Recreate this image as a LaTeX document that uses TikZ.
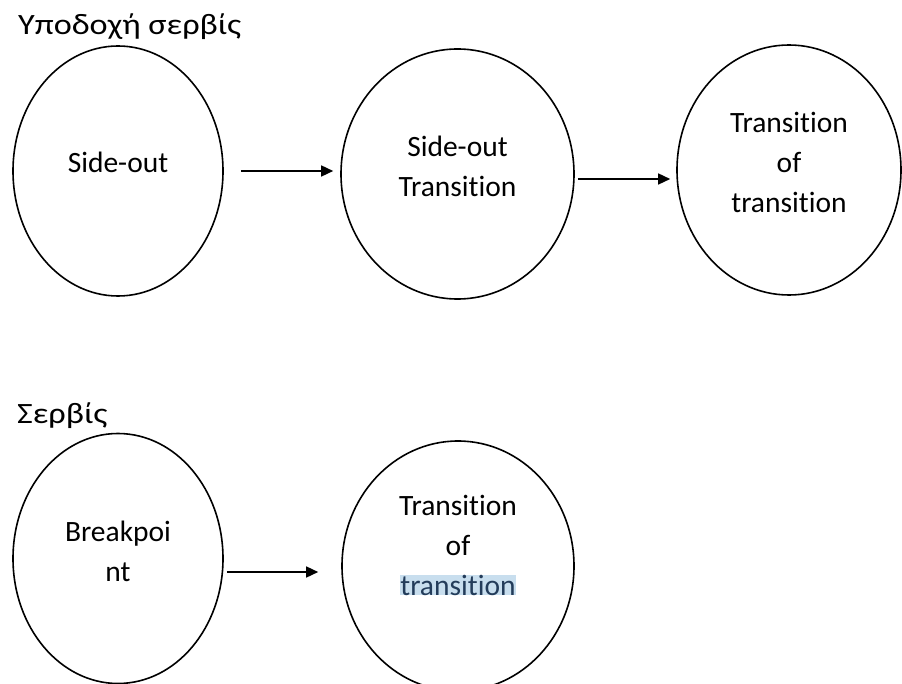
\documentclass[tikz,border=0pt]{standalone}
\usepackage{fontspec}
\setmainfont{Carlito}[Ligatures=NoCommon]
\newfontfamily\greekwide{Carlito}[FakeStretch=1.16, Ligatures=NoCommon]
\usetikzlibrary{arrows.meta, shapes.geometric}
\definecolor{hlblue}{RGB}{200,222,238}
\definecolor{hltext}{RGB}{35,60,90}
\newcommand{\hlword}[1]{{\setlength{\fboxsep}{0pt}\colorbox{hlblue}{\color{hltext}#1}}}
\tikzset{
    state/.style={ellipse, draw, line width=1.6pt, inner sep=0pt, minimum height=250pt}, % 椭圆状态
    flow/.style={line width=1.5pt, -{Triangle[length=12pt, width=11pt]}}, % 箭头
    lbl/.style={align=center, inner sep=0pt}, % 椭圆内文字
    heading/.style={anchor=base west, inner sep=0pt, font=\fontsize{29.5}{40}\greekwide} % 希腊文标题
}

\begin{document}
\begin{tikzpicture}[x=1pt, y=-1pt, font=\fontsize{29.5}{40}\selectfont]
    \useasboundingbox (0,0) rectangle (902,684);

    \node[heading] (recv) at (18,35) {Υποδοχή σερβίς};
    \node[state, minimum width=210pt, label={[lbl, yshift=8.5pt]center:Side-out}] (so) at (118,171) {};
    \node[state, minimum width=233pt, label={[lbl, yshift=8pt]center:Side-out\\Transition}] (sot) at (457.5,174) {};
    \node[state, minimum width=224pt, label={[lbl, yshift=8pt]center:Transition\\of\\transition}] (tot) at (789,170) {};

    \node[heading] (serve) at (17,423) {Σερβίς};
    \node[state, minimum width=210pt, label={[lbl, yshift=7pt]center:Breakpoi\\nt}] (bp) at (118,558.5) {};
    \node[state, minimum width=232pt, label={[lbl, yshift=21pt]center:Transition\\of\\\hlword{transition}}] (tot2) at (458,566) {};

    \draw[flow, shorten <=17pt, shorten >=7pt] (so.east) -- (so.east -| sot.west);
    \draw[flow, shorten <=3pt, shorten >=6pt] ([yshift=-5pt]sot.east) -- ([yshift=-5pt]sot.east -| tot.west);
    \draw[flow, shorten <=3pt, shorten >=23pt] ([yshift=-13.5pt]bp.east) -- ([yshift=-13.5pt]bp.east -| tot2.west);
\end{tikzpicture}
\end{document}
